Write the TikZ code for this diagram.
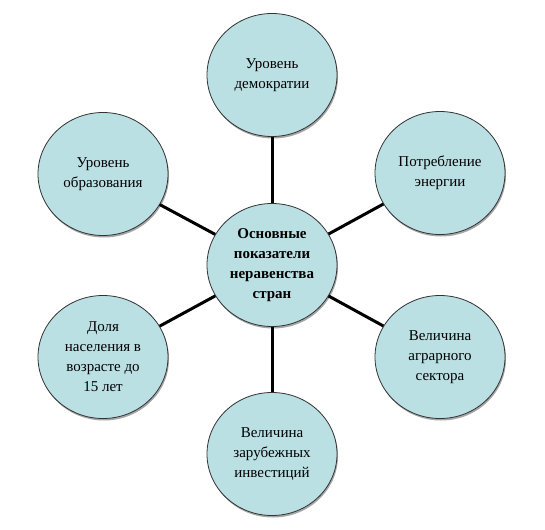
\documentclass[tikz,border=0pt]{standalone}
\usepackage{fontspec}
\setmainfont{Liberation Serif}
\usetikzlibrary{shapes.geometric,shadows}
\definecolor{bubble}{RGB}{186,224,228}
\tikzset{
  bubblenode/.style={ellipse, draw=black!80, line width=0.8pt, fill=bubble,
    minimum width=130pt, minimum height=123pt, inner sep=0pt, align=center,
    font=\fontsize{15}{20}\selectfont,
    drop shadow={shadow xshift=1pt, shadow yshift=-2pt, fill=black!35, opacity=1}},
  centernode/.style={bubblenode, font=\fontsize{15}{20}\selectfont\bfseries},
  spoke/.style={line width=3pt, black}
}
\begin{document}
\begin{tikzpicture}[x=1pt,y=-1pt]
\useasboundingbox (0,0) rectangle (545,529);
\node[centernode] (c) at (272,265) {Основные\\показатели\\неравенства\\стран};
\node[bubblenode] (t) at (272,75) {Уровень\\демократии};
\node[bubblenode] (ul) at (103,174) {Уровень\\образования};
\node[bubblenode] (ur) at (440,173) {Потребление\\энергии};
\node[bubblenode] (ll) at (103,357) {Доля\\населения в\\возрасте до\\15 лет};
\node[bubblenode] (lr) at (440,357) {Величина\\аграрного\\сектора};
\node[bubblenode] (b) at (272,454) {Величина\\зарубежных\\инвестиций};
\foreach \n in {t,ul,ur,ll,lr,b}{
  \draw[spoke] (c) -- (\n);
}
\end{tikzpicture}
\end{document}
